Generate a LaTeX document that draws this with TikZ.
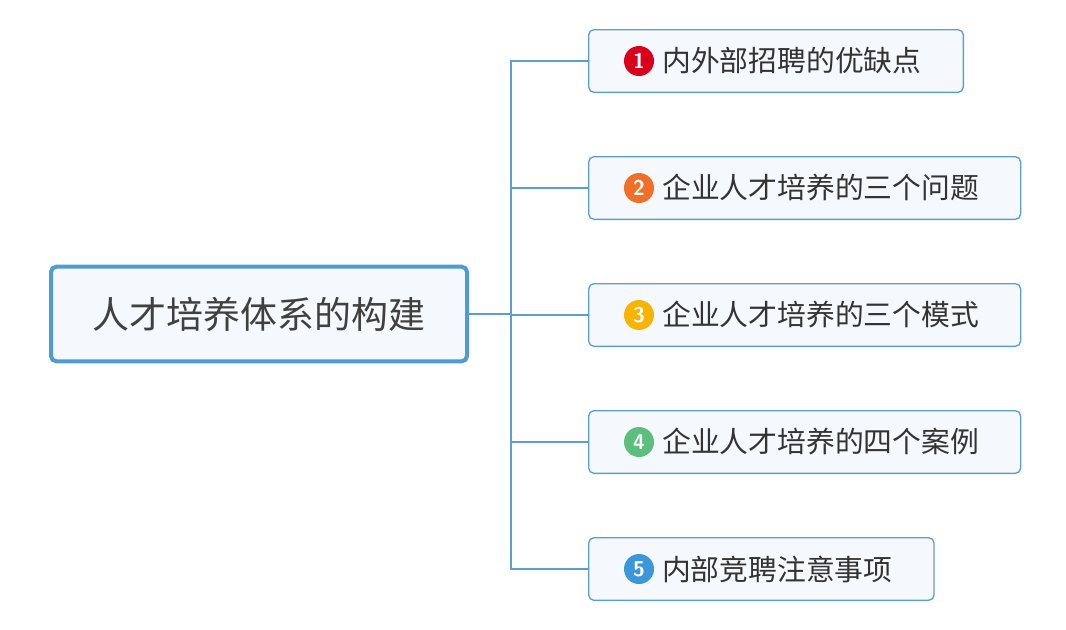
\documentclass[tikz,border=0pt]{standalone}
\usepackage{fontspec}
\newfontfamily\cjk{Noto Sans CJK SC}
\definecolor{linecol}{HTML}{5C9FCB}
\definecolor{rootline}{HTML}{4F9BD4}
\definecolor{boxfill}{HTML}{F5F8FC}
\definecolor{numa}{HTML}{D9001B}
\definecolor{numb}{HTML}{F07027}
\definecolor{numc}{HTML}{F8B400}
\definecolor{numd}{HTML}{5DBF7D}
\definecolor{nume}{HTML}{3B97D9}
\begin{document}
\begin{tikzpicture}
            [x=0.75pt,y=-0.75pt,
                root/.style={draw=rootline,line width=3pt,fill=boxfill,rounded corners=4pt,minimum width=312pt,minimum height=71pt,font=\cjk\fontsize{27.7}{32}\selectfont,text=black!75},
                topic/.style={draw=linecol,line width=1pt,fill=boxfill,rounded corners=4pt,minimum height=47pt,anchor=west,font=\cjk\fontsize{21.6}{25}\selectfont,text=black!80},
                num/.style={circle,fill=#1,inner sep=0pt,minimum size=22.5pt,text=white,font=\sffamily\bfseries\fontsize{16}{16}\selectfont},
                link/.style={linecol,line width=1.2pt}]
            \useasboundingbox (0,0) rectangle (1066,629);
            %central topic
            \node[root] (root) at (259,314) {人才培养体系的构建};
            \coordinate (trunk) at (511,314);

            %the five subtopics
            \node[topic,minimum width=281pt] (t1) at (588,61) {\phantom{00}内外部招聘的优缺点};
            \node[topic,minimum width=324pt] (t2) at (588,188) {\phantom{00}企业人才培养的三个问题};
            \node[topic,minimum width=324pt] (t3) at (588,315) {\phantom{00}企业人才培养的三个模式};
            \node[topic,minimum width=324pt] (t4) at (588,442) {\phantom{00}企业人才培养的四个案例};
            \node[topic,minimum width=259pt] (t5) at (588,569) {\phantom{00}内部竞聘注意事项};

            %numbered markers
            \node[num=numa] (n1) at (639,61) {1};
            \node[num=numb] (n2) at (639,188) {2};
            \node[num=numc] (n3) at (639,315) {3};
            \node[num=numd] (n4) at (639,442) {4};
            \node[num=nume] (n5) at (639,569) {5};

            %connectors
            \draw[link] (root.east) -- (trunk);
            \foreach \t in {t1,t2,t3,t4,t5}
                \draw[link] (trunk) |- (\t.west);
        \end{tikzpicture}
\end{document}
